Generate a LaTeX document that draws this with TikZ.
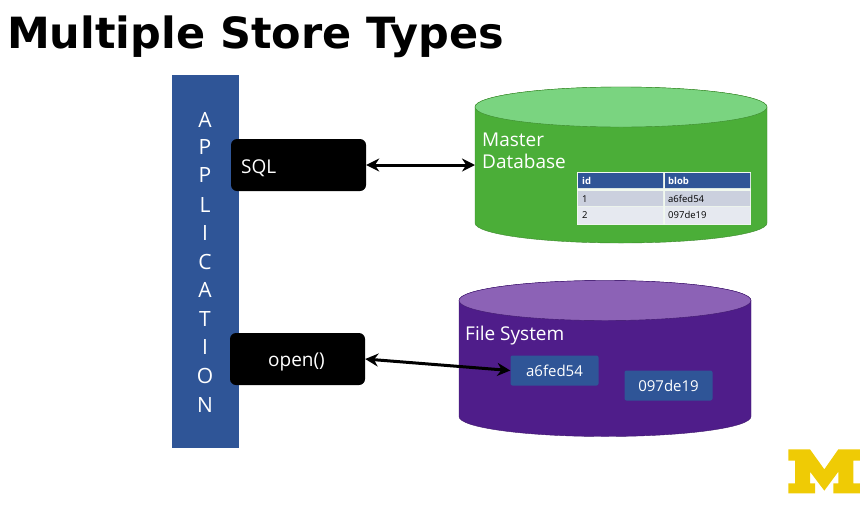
\documentclass[tikz,border=0pt]{standalone}
\usepackage{fontspec}
\setmainfont{Open Sans}
\newfontfamily\titlefont{DejaVu Sans}
\usetikzlibrary{arrows.meta,positioning}
\definecolor{appblue}{HTML}{2F5597}
\definecolor{dbgreen}{HTML}{4BAE38}
\definecolor{dbtop}{HTML}{7AD480}
\definecolor{fsviolet}{HTML}{4F1D8A}
\definecolor{fstop}{HTML}{8C62B6}
\definecolor{rowone}{HTML}{CBD0DE}
\definecolor{rowtwo}{HTML}{E6E9F0}
\definecolor{mgold}{HTML}{EFCB05}

\begin{document}
\begin{tikzpicture}[
        >=Stealth, line join=round,
        x=1pt, y=-1pt, font=\fontsize{13}{15}\selectfont,
        callbox/.style={fill=black, text=white, rounded corners=6pt, minimum width=135pt, minimum height=52pt, inner sep=0pt, font=\fontsize{19}{22}\selectfont},
        lbl/.style={text=white, align=left, font=\fontsize{19}{22}\selectfont, inner sep=0pt},
        blobbox/.style={fill=appblue, text=white, rounded corners=2pt, minimum width=88pt, minimum height=30pt, inner sep=0pt, font=\fontsize{15}{18}\selectfont},
        cell/.style={anchor=west, inner sep=0pt, font=\fontsize{9.5}{11}\selectfont},
        link/.style={line width=3pt, {Stealth[length=13pt,width=13pt]}-{Stealth[length=13pt,width=13pt]}}
      ]
      \useasboundingbox (0,0) rectangle (865,509);

      % ---- helpers ----
      \newcommand{\storecyl}[5]{% name, x, y, body color, top color
        \node[minimum width=292pt, minimum height=156pt, inner sep=0pt, outer sep=0pt] (#1) at (#2,#3) {};
        \draw[draw=#4!78!black, fill=#4] ([yshift=-20pt]#1.north west) -- ([yshift=20pt]#1.south west)
          arc[start angle=180, end angle=360, x radius=146pt, y radius=20pt]
          -- ([yshift=-20pt]#1.north east)
          arc[start angle=0, end angle=180, x radius=146pt, y radius=20pt] -- cycle;
        \draw[draw=#4!78!black, fill=#5] ([yshift=-20pt]#1.north) ellipse[x radius=146pt, y radius=20pt];
      }

      % ---- title ----
      \node[anchor=west, inner sep=0pt, font=\titlefont\bfseries\fontsize{43}{50}\selectfont] (title) at (7,37) {Multiple Store Types};

      % ---- application bar ----
      \node[fill=appblue, minimum width=67pt, minimum height=373pt, inner sep=0pt] (app) at (205.5,261.5) {};
      \foreach \y/\c in {120/A,147/P,175/P,205/L,233/I,262/C,290/A,319/T,347/I,376/O,405/N} {
          \node[text=white, inner sep=0pt, font=\fontsize{21}{24}\selectfont] (app\y) at (205,\y) {\c};
        }

      % ---- calls ----
      \node[callbox] (sql) at (298.5,165) {};
      \node[lbl, anchor=west] (sqlname) at (241,168) {SQL};
      \node[callbox] (open) at (297.5,359) {};
      \node[lbl] (openname) at (296.5,362) {open()};

      %==================== master database ====================
      \storecyl{master}{621}{165}{dbgreen}{dbtop}
      \node[lbl, anchor=north west] (mastername) at (482,133) {Master\\Database};

      % table
      \fill[white!92!dbgreen] (577,172) rectangle (751,225);
      \fill[appblue] (578,173) rectangle (663,188) (665,173) rectangle (750,188);
      \fill[rowone] (578,191) rectangle (663,206) (665,191) rectangle (750,206);
      \fill[rowtwo] (578,207) rectangle (663,224) (665,207) rectangle (750,224);
      \node[cell, text=white] (hid) at (582,181) {\bfseries id};
      \node[cell, text=white] (hblob) at (668,181) {\bfseries blob};
      \node[cell] (rowa) at (582,199) {1};
      \node[cell] (bloba) at (668,199) {a6fed54};
      \node[cell] (rowb) at (582,215) {2};
      \node[cell] (blobb) at (668,215) {097de19};

      %==================== file system ====================
      \storecyl{files}{605}{358.5}{fsviolet}{fstop}
      \node[lbl, anchor=west] (filesname) at (465,336) {File System};
      \node[blobbox] (fileA) at (554.5,370.5) {a6fed54};
      \node[blobbox] (fileB) at (668.5,385.5) {097de19};

      % arrows
      \draw[link] (sql.east) -- (master.west);
      \draw[link] (open.east) -- (fileA.west);

      % ---- logo ----
      \begin{scope}[shift={(770,430)}, x=0.3333pt, y=-0.3333pt]
        \fill[mgold] (55,58) -- (120,58) -- (163,118) -- (205,58) -- (270,58) -- (270,92) -- (250,92)
          -- (250,160) -- (270,160) -- (270,190) -- (190,190) -- (190,160) -- (205,160) -- (205,125)
          -- (163,182) -- (120,125) -- (120,160) -- (135,160) -- (135,190) -- (55,190) -- (55,160)
          -- (75,160) -- (75,92) -- (55,92) -- cycle;
      \end{scope}
    \end{tikzpicture}
\end{document}
